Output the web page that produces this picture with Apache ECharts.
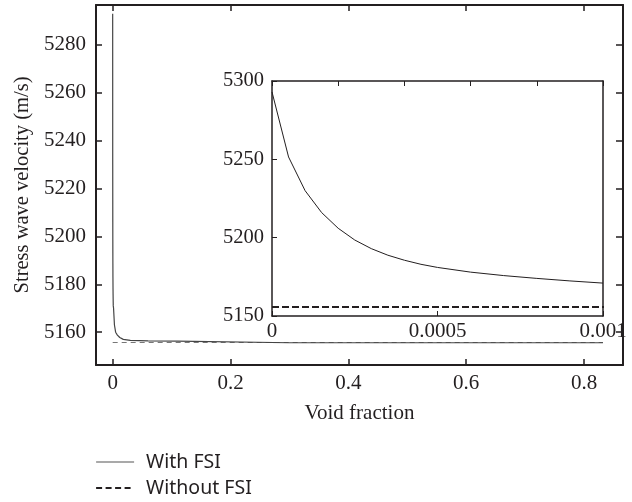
<!DOCTYPE html>
<html>
<head>
<meta charset="utf-8">
<script src="https://cdn.jsdelivr.net/npm/echarts@6.0.0/dist/echarts.min.js"></script>
<style>
  html, body { margin: 0; padding: 0; background: #fff; }
  #root { width: 632px; height: 502px; }
</style>
</head>
<body>
<div id="root"></div>
<script>
// With FSI, fine region (also shown in the inset)
var fineVoid = [0, 0.00005, 0.0001, 0.00015, 0.0002, 0.00025, 0.0003, 0.00035, 0.0004,
  0.00045, 0.0005, 0.0006, 0.0007, 0.0008, 0.0009, 0.001];
var fineVel = [5293, 5251.5, 5230, 5216, 5206, 5198.5, 5193, 5188.8, 5185.6,
  5183, 5181, 5178, 5175.8, 5174, 5172.4, 5171];
// With FSI, rest of the main curve
var coarseVoid = [0.0015, 0.003, 0.005, 0.008, 0.012, 0.018, 0.03, 0.06, 0.109, 0.11, 0.3, 0.6, 0.832];
var coarseVel = [5170, 5163, 5160, 5158.8, 5157.8, 5157, 5156.6, 5156.4, 5156.3, 5155.6, 5155.6, 5155.6, 5155.6];
// Without FSI
var noFsiVoid = [0, 0.832];
var noFsiVel = [5155.7, 5155.7];

var mainXTicks = [0, 0.2, 0.4, 0.6, 0.8];
var mainYTicks = [5160, 5180, 5200, 5220, 5240, 5260, 5280];
var insetXLabels = [0, 0.0005, 0.001];
var insetXTopTicks = [0, 0.0002, 0.0004, 0.0006, 0.0008, 0.001];
var insetYTicks = [5150, 5200, 5250, 5300];

function pairs(xs, ys) {
  return xs.map(function (x, i) { return [x, ys[i]]; });
}
var withFsi = pairs(fineVoid, fineVel).concat(pairs(coarseVoid, coarseVel));
var withoutFsi = pairs(noFsiVoid, noFsiVel);

var ink = '#231f20';
var serif = '"Liberation Serif", "DejaVu Serif", serif';
var plain = function (v) { return String(v); };
var labelFont = { fontFamily: serif, fontSize: 21, color: ink, formatter: plain };

function frameAxis(extra) {
  var base = {
    type: 'value',
    axisLine: { show: true, onZero: false, lineStyle: { color: ink, width: 2 } },
    splitLine: { show: false },
    axisTick: { show: true, inside: true, length: 6, lineStyle: { color: ink, width: 1.5 } },
    axisLabel: { show: false }
  };
  return Object.assign(base, extra);
}

var chart = echarts.init(document.getElementById('root'), null, { renderer: 'canvas' });

chart.setOption({
  backgroundColor: '#fff',
  animation: false,
  textStyle: { fontFamily: serif, color: ink },
  grid: [
    { left: 96, top: 5, width: 527, height: 360 },
    { left: 272, top: 81, width: 331, height: 235 }
  ],
  legend: {
    orient: 'vertical',
    left: 95,
    top: 452,
    itemWidth: 38,
    itemHeight: 14,
    itemGap: 6,
    padding: 0,
    itemStyle: { opacity: 0 },
    textStyle: { fontFamily: '"Noto Sans", sans-serif', fontSize: 19.5, lineHeight: 20, color: ink, padding: [0, 0, 0, 7] },
    data: [
      { name: 'With FSI', lineStyle: { color: '#555', width: 1.2, type: 'solid' } },
      { name: 'Without FSI', lineStyle: { color: ink, width: 2.2, type: [6, 3.5] } }
    ]
  },
  xAxis: [
    frameAxis({
      gridIndex: 0, min: -0.0283, max: 0.866, position: 'bottom',
      name: 'Void fraction', nameLocation: 'middle', nameGap: 38,
      nameTextStyle: { fontFamily: serif, fontSize: 21, color: ink },
      axisTick: { show: true, inside: true, length: 6, customValues: mainXTicks, lineStyle: { color: ink, width: 1.5 } },
      axisLabel: Object.assign({ show: true, margin: 8, customValues: mainXTicks }, labelFont)
    }),
    frameAxis({
      gridIndex: 0, min: -0.0283, max: 0.866, position: 'top',
      axisTick: { show: true, inside: true, length: 6, customValues: mainXTicks, lineStyle: { color: ink, width: 1.5 } }
    }),
    frameAxis({
      gridIndex: 1, min: 0, max: 0.001, position: 'bottom',
      axisLine: { show: true, onZero: false, lineStyle: { color: ink, width: 1.5 } },
      axisTick: { show: true, inside: true, length: 5, customValues: insetXLabels, lineStyle: { color: ink, width: 1 } },
      axisLabel: Object.assign({ show: true, margin: 5, customValues: insetXLabels }, labelFont)
    }),
    frameAxis({
      gridIndex: 1, min: 0, max: 0.001, position: 'top',
      axisLine: { show: true, onZero: false, lineStyle: { color: ink, width: 1.5 } },
      axisTick: { show: true, inside: true, length: 5, customValues: insetXTopTicks, lineStyle: { color: ink, width: 1 } }
    })
  ],
  yAxis: [
    frameAxis({
      gridIndex: 0, min: 5146.3, max: 5296.7, position: 'left',
      name: 'Stress wave velocity (m/s)', nameLocation: 'middle', nameGap: 63,
      nameTextStyle: { fontFamily: serif, fontSize: 20.5, color: ink },
      axisTick: { show: true, inside: true, length: 6, customValues: mainYTicks, lineStyle: { color: ink, width: 1.5 } },
      axisLabel: Object.assign({ show: true, margin: 10, customValues: mainYTicks }, labelFont)
    }),
    frameAxis({
      gridIndex: 0, min: 5146.3, max: 5296.7, position: 'right',
      axisTick: { show: true, inside: true, length: 7, customValues: mainYTicks, lineStyle: { color: ink, width: 1.5 } }
    }),
    frameAxis({
      gridIndex: 1, min: 5150, max: 5300, position: 'left',
      axisLine: { show: true, onZero: false, lineStyle: { color: ink, width: 1.5 } },
      axisTick: { show: true, inside: true, length: 5, customValues: insetYTicks, lineStyle: { color: ink, width: 1 } },
      axisLabel: Object.assign({ show: true, margin: 8, customValues: insetYTicks }, labelFont, { fontSize: 20.5 })
    }),
    frameAxis({
      gridIndex: 1, min: 5150, max: 5300, position: 'right',
      axisLine: { show: true, onZero: false, lineStyle: { color: ink, width: 1.5 } },
      axisTick: { show: false }
    })
  ],
  series: [
    {
      name: 'With FSI', type: 'line', xAxisIndex: 2, yAxisIndex: 2,
      data: pairs(fineVoid, fineVel), symbol: 'none', silent: true, clip: true,
      itemStyle: { color: '#444' },
      lineStyle: { color: ink, width: 1 }
    },
    {
      name: 'Without FSI', type: 'line', xAxisIndex: 2, yAxisIndex: 2,
      data: withoutFsi, symbol: 'none', silent: true, clip: true,
      itemStyle: { color: ink },
      lineStyle: { color: ink, width: 2, type: [7, 3] }
    },
    {
      name: 'Without FSI', type: 'line', xAxisIndex: 0, yAxisIndex: 0,
      data: withoutFsi, symbol: 'none', silent: true,
      itemStyle: { color: '#777' },
      lineStyle: { color: '#777', width: 1.2, type: [5, 4] }
    },
    {
      name: 'With FSI', type: 'line', xAxisIndex: 0, yAxisIndex: 0,
      data: withFsi, symbol: 'none', silent: true,
      itemStyle: { color: '#444' },
      lineStyle: { color: '#444', width: 1.2 }
    }
  ]
});
</script>
</body>
</html>
